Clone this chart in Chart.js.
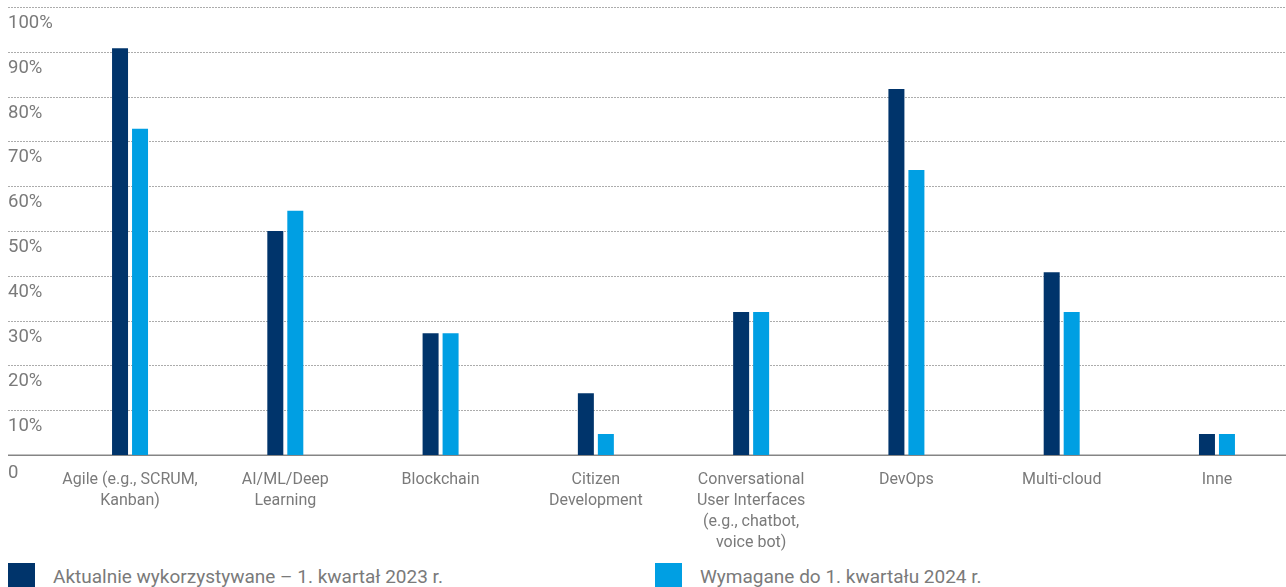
<!DOCTYPE html>
<html lang="pl">
<head>
<meta charset="utf-8">
<title>Technologie i metodyki</title>
<script src="https://cdn.jsdelivr.net/npm/chart.js@4/dist/chart.umd.min.js"></script>
<style>
  html, body { margin: 0; padding: 0; background: #ffffff; overflow: hidden; }
  body { width: 1286px; height: 587px; position: relative; font-family: Roboto, "Noto Sans", sans-serif; }
  #wrap { position: absolute; left: 0; top: 0; width: 1296px; height: 560px; }
  #legend { position: absolute; left: 0; top: 563px; width: 1286px; height: 30px; }
  .item { position: absolute; top: 0; display: flex; align-items: center; height: 27px; }
  .swatch { width: 27px; height: 27px; margin-right: 18px; }
  .label { font-size: 19px; color: #7a7a7a; white-space: nowrap; }
</style>
</head>
<body>
<div id="wrap"><canvas id="chart" width="1296" height="560"></canvas></div>
<div id="legend"></div>
<script>
// Categories (multi-line labels as arrays)
const categories = [
  ["Agile (e.g., SCRUM,", "Kanban)"],
  ["AI/ML/Deep", "Learning"],
  ["Blockchain"],
  ["Citizen", "Development"],
  ["Conversational", "User Interfaces", "(e.g., chatbot,", "voice bot)"],
  ["DevOps"],
  ["Multi-cloud"],
  ["Inne"]
];

// Share of respondents, %
const current2023 = [90.8, 50, 27.2, 13.8, 31.9, 81.7, 40.8, 4.7];
const required2024 = [72.8, 54.5, 27.2, 4.7, 31.9, 63.6, 31.9, 4.7];

const seriesLabels = [
  "Aktualnie wykorzystywane \u2013 1. kwartał 2023 r.",
  "Wymagane do 1. kwartału 2024 r."
];

// Y-axis tick values and their labels
const yTicks = [0, 10, 20, 30, 40, 50, 60, 70, 80, 90, 100];
const yTickLabels = ["0", "10%", "20%", "30%", "40%", "50%", "60%", "70%", "80%", "90%", "100%"];

const DARK = "#00346b";
const LIGHT = "#009fe3";
const TEXT = "#7a7a7a";

// Dotted horizontal grid, solid baseline and left-aligned tick labels under each line
const gridPlugin = {
  id: "sheetGrid",
  beforeDatasetsDraw(chart) {
    const { ctx } = chart;
    const y = chart.scales.y;
    const x0 = 8, x1 = 1286;
    ctx.save();
    yTicks.forEach((v, i) => {
      const py = Math.round(y.getPixelForValue(v));
      if (v === 0) {
        ctx.setLineDash([]);
        ctx.strokeStyle = "#858585";
        ctx.lineWidth = 1.5;
        ctx.beginPath();
        ctx.moveTo(x0, py + 0.25);
        ctx.lineTo(x1, py + 0.25);
        ctx.stroke();
      } else {
        ctx.setLineDash([2, 1]);
        ctx.strokeStyle = "#acacac";
        ctx.lineWidth = 1;
        ctx.beginPath();
        ctx.moveTo(x0, py + 0.5);
        ctx.lineTo(x1, py + 0.5);
        ctx.stroke();
      }
      ctx.setLineDash([]);
      ctx.fillStyle = TEXT;
      ctx.font = "18.5px Roboto";
      ctx.textAlign = "left";
      ctx.textBaseline = "middle";
      ctx.fillText(yTickLabels[i], x0, py + (v === 0 ? 18 : 16.5));
    });
    ctx.restore();
  }
};

const chart = new Chart(document.getElementById("chart"), {
  type: "bar",
  data: {
    labels: categories,
    datasets: [
      { label: seriesLabels[0], data: current2023, backgroundColor: DARK },
      { label: seriesLabels[1], data: required2024, backgroundColor: LIGHT }
    ]
  },
  options: {
    responsive: false,
    animation: false,
    layout: { padding: { left: 52.4, right: 1.4, top: 7, bottom: 0 } },
    plugins: {
      legend: { display: false },
      tooltip: { enabled: false }
    },
    datasets: {
      bar: { categoryPercentage: 40 / 155.3, barPercentage: 0.8 }
    },
    scales: {
      y: {
        display: false,
        min: 0,
        max: 100
      },
      x: {
        grid: { display: false },
        border: { display: false },
        ticks: {
          color: TEXT,
          font: { family: "Roboto", size: 16, lineHeight: 1.33 },
          padding: 6,
          maxRotation: 0,
          autoSkip: false
        },
        afterFit(scale) { scale.height = 105; }
      }
    }
  },
  plugins: [gridPlugin]
});

// Legend built from the datasets
const legend = document.getElementById("legend");
const legendX = [8, 655];
chart.data.datasets.forEach((ds, i) => {
  const item = document.createElement("div");
  item.className = "item";
  item.style.left = legendX[i] + "px";
  const sw = document.createElement("span");
  sw.className = "swatch";
  sw.style.background = ds.backgroundColor;
  const lb = document.createElement("span");
  lb.className = "label";
  lb.textContent = ds.label;
  item.appendChild(sw);
  item.appendChild(lb);
  legend.appendChild(item);
});
</script>
</body>
</html>
